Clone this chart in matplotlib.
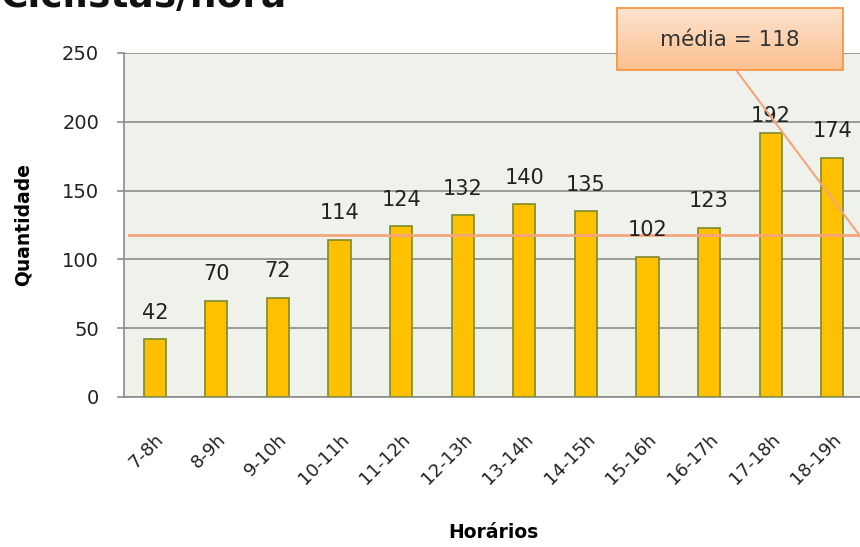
import matplotlib
matplotlib.use("Agg")
import matplotlib.pyplot as plt
import numpy as np
from matplotlib.patches import FancyBboxPatch
from matplotlib.colors import LinearSegmentedColormap

categories = ["7-8h", "8-9h", "9-10h", "10-11h", "11-12h", "12-13h", "13-14h",
              "14-15h", "15-16h", "16-17h", "17-18h", "18-19h"]
values = [42, 70, 72, 114, 124, 132, 140, 135, 102, 123, 192, 174]
mean_value = 118
yticks = [0, 50, 100, 150, 200, 250]

W, H = 860, 547
fig = plt.figure(figsize=(8.6, 5.47), dpi=100)
ax = fig.add_axes([124 / W, 1 - 397 / H, (863 - 124) / W, (397 - 53) / H])
ax.set_facecolor("#EEF2EA")

x = np.arange(len(categories))
ax.bar(x, values, width=0.36, color="#FFC000", edgecolor="#7C8A2A", linewidth=1.2, zorder=3)
ax.set_xlim(-0.5, len(categories) - 0.5)
ax.set_ylim(0, 250)
ax.set_yticks(yticks)
ax.grid(axis="y", color="#8C8C8C", linewidth=1.2, zorder=0)
for s in ["top", "right"]:
    ax.spines[s].set_visible(False)
for s in ["left", "bottom"]:
    ax.spines[s].set_color("#8C8C8C")
    ax.spines[s].set_linewidth(1.2)
ax.tick_params(axis="y", length=5, color="#8C8C8C", width=1.2, labelsize=14, pad=13, labelcolor="#222222")
ax.set_xticks(x)
ax.set_xticklabels(categories, rotation=45, ha="right", rotation_mode="anchor", fontsize=13, color="#222222")
ax.tick_params(axis="x", length=0, pad=24)

for xi, v in zip(x, values):
    off = 5 if v > 185 else 12
    ax.annotate(str(v), (xi, v), xytext=(0, off), textcoords="offset points",
                ha="center", va="bottom", fontsize=15, color="#222222", zorder=5)

# mean line
ax.plot([-0.42, len(categories) - 0.5], [mean_value, mean_value], color="#F4A57A",
        linewidth=2, zorder=4, clip_on=False)

ax.set_ylabel("Quantidade", fontsize=13.5, fontweight="bold", labelpad=21)
ax.set_xlabel("Horários", fontsize=13.5, fontweight="bold", labelpad=25)

# callout box with gradient (figure pixel coordinates)
bx0, bx1, by0, by1 = 617, 843, 8, 70
fax = fig.add_axes([0, 0, 1, 1], facecolor="none")
fax.set_xlim(0, W)
fax.set_ylim(H, 0)
fax.axis("off")
fax.plot([736, 860], [70, 236], color="#F4A57A", linewidth=1.5, zorder=1)
grad = np.linspace(0, 1, 100).reshape(-1, 1)
cmap = LinearSegmentedColormap.from_list("g", ["#FDE3CF", "#FBC08E"])
img = fax.imshow(grad, extent=[bx0, bx1, by1, by0], cmap=cmap, aspect="auto", zorder=2)
box = FancyBboxPatch((bx0, by0), bx1 - bx0, by1 - by0, boxstyle="square,pad=0",
                     facecolor="none", edgecolor="#F79646", linewidth=1.3, zorder=3)
fax.add_patch(box)
img.set_clip_path(box)
fax.text((bx0 + bx1) / 2, (by0 + by1) / 2 + 1, "média = 118", ha="center", va="center",
         fontsize=15.5, color="#333333", zorder=4)

# title (cropped at top edge, as in the reference)
fig.text(0.0, 1 - 7 / H, "Ciclistas/hora", fontsize=27, fontweight="bold",
         ha="left", va="baseline", color="#111111")

fig.savefig("out.png", dpi=100)
